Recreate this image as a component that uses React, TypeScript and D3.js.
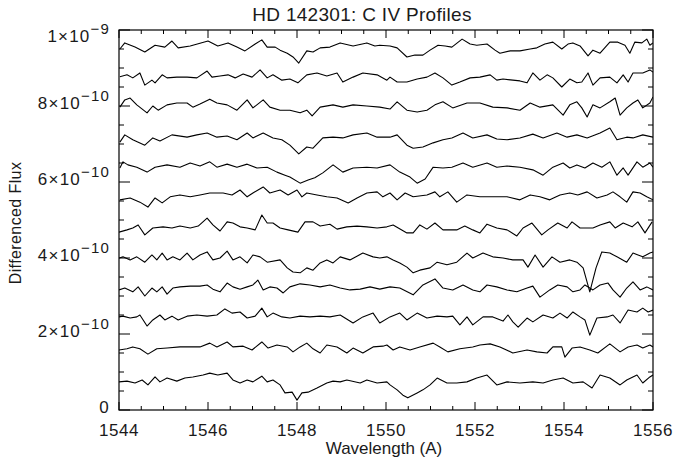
import React from 'react';
import * as d3 from 'd3';

// ---------- text ----------
const TITLE = 'HD 142301: C IV Profiles';
const X_LABEL = 'Wavelength (A)';
const Y_LABEL = 'Differenced Flux';

// ---------- axes ----------
const X_DOMAIN: [number, number] = [1544, 1556];
const Y_DOMAIN: [number, number] = [0, 1e-9];
const X_MAJOR_TICKS = [1544, 1546, 1548, 1550, 1552, 1554, 1556];
const X_MINOR_STEP = 0.5;
const Y_MAJOR_TICKS = [0, 2e-10, 4e-10, 6e-10, 8e-10, 1e-9];
const Y_MINOR_STEP = 0.5e-10;
const Y_TICK_MANTISSA = ['0', '2', '4', '6', '8', '1'];
const Y_TICK_EXPONENT = ['', '\u221210', '\u221210', '\u221210', '\u221210', '\u22129'];

// ---------- data ----------
const FLUX_UNIT = 1e-10;
// vertical offset of each differenced profile, bottom to top (x 1e-10)
const OFFSETS = [0.8, 1.6, 2.4, 3.2, 4.0, 4.8, 5.6, 6.4, 7.2, 8.0, 8.8, 9.6];

// each profile: [wavelength (A), differenced flux relative to its offset (x 1e-10)]
const PROFILE_1: [number, number][] = [
  [1544.00,-0.06],[1544.18,-0.04],[1544.36,-0.09],[1544.52,-0.01],[1544.65,-0.14],[1544.81,0.07],[1544.92,-0.06],[1545.08,0.04],[1545.30,-0.04],[1545.48,0.04],[1545.66,0.07],[1545.89,0.12],[1546.04,0.17],[1546.22,0.12],[1546.43,0.17],[1546.56,-0.01],[1546.72,-0.09],[1546.88,-0.01],[1547.01,-0.06],[1547.21,0.09],[1547.33,-0.06],[1547.46,-0.01],[1547.62,-0.14],[1547.73,-0.35],[1547.89,-0.33],[1548.00,-0.54],[1548.11,-0.35],[1548.25,-0.33],[1548.45,-0.22],[1548.67,-0.09],[1548.81,-0.04],[1548.97,-0.06],[1549.12,-0.01],[1549.42,-0.09],[1549.57,-0.01],[1549.80,-0.09],[1550.02,-0.06],[1550.09,-0.14],[1550.25,-0.27],[1550.38,-0.41],[1550.49,-0.48],[1550.70,-0.35],[1550.83,-0.27],[1550.99,-0.14],[1551.15,0.04],[1551.37,-0.09],[1551.59,-0.09],[1551.82,-0.06],[1552.04,0.04],[1552.27,0.12],[1552.49,-0.14],[1552.72,-0.06],[1553.01,-0.09],[1553.30,-0.06],[1553.53,-0.09],[1553.75,-0.01],[1553.98,0.04],[1554.20,-0.09],[1554.43,-0.06],[1554.63,-0.22],[1554.81,0.12],[1555.03,0.04],[1555.26,-0.14],[1555.41,-0.01],[1555.64,0.12],[1555.77,-0.09],[1555.93,0.07],[1556.00,0.12],
];
const PROFILE_2: [number, number][] = [
  [1544.00,-0.02],[1544.18,0.01],[1544.31,0.06],[1544.47,0.01],[1544.65,-0.13],[1544.85,0.01],[1545.08,0.03],[1545.37,0.06],[1545.60,0.06],[1545.82,0.06],[1546.04,0.16],[1546.20,0.06],[1546.43,0.19],[1546.56,0.06],[1546.79,0.08],[1546.99,-0.02],[1547.21,0.19],[1547.35,0.03],[1547.55,0.11],[1547.78,0.06],[1547.91,-0.07],[1548.07,0.06],[1548.22,0.16],[1548.36,0.01],[1548.52,-0.10],[1548.67,0.11],[1548.90,0.06],[1549.12,-0.10],[1549.26,0.03],[1549.48,-0.10],[1549.71,0.06],[1549.93,0.08],[1550.02,0.11],[1550.16,-0.02],[1550.31,0.06],[1550.54,-0.02],[1550.76,0.06],[1551.06,0.16],[1551.21,0.06],[1551.39,-0.07],[1551.66,0.01],[1551.95,0.06],[1552.11,0.11],[1552.34,0.14],[1552.56,0.06],[1552.85,-0.10],[1553.17,-0.02],[1553.39,-0.07],[1553.62,-0.10],[1553.75,0.06],[1553.95,0.06],[1554.02,-0.21],[1554.18,0.03],[1554.36,0.06],[1554.58,-0.02],[1554.76,-0.10],[1555.03,0.14],[1555.26,-0.07],[1555.44,0.06],[1555.64,0.11],[1555.77,0.03],[1555.93,0.11],[1556.00,0.06],
];
const PROFILE_3: [number, number][] = [
  [1544.00,0.05],[1544.09,0.07],[1544.25,0.02],[1544.40,0.05],[1544.47,0.10],[1544.63,-0.19],[1544.76,-0.03],[1544.92,0.10],[1545.03,-0.03],[1545.19,0.07],[1545.33,-0.03],[1545.53,0.07],[1545.75,0.10],[1545.98,0.07],[1546.20,0.10],[1546.38,0.26],[1546.54,0.15],[1546.72,0.18],[1546.88,0.02],[1547.06,0.07],[1547.21,0.28],[1547.33,0.05],[1547.46,0.15],[1547.66,0.05],[1547.84,0.02],[1548.07,0.07],[1548.29,0.05],[1548.52,0.07],[1548.74,0.05],[1548.97,0.10],[1549.26,-0.11],[1549.48,0.05],[1549.71,0.15],[1549.86,-0.11],[1550.09,0.05],[1550.31,0.15],[1550.47,-0.03],[1550.70,0.15],[1550.92,0.02],[1551.15,0.07],[1551.37,0.05],[1551.50,0.07],[1551.66,-0.16],[1551.82,0.05],[1551.95,-0.16],[1552.18,0.05],[1552.40,0.05],[1552.63,-0.06],[1552.74,0.10],[1552.85,-0.08],[1552.97,-0.22],[1553.17,0.02],[1553.30,-0.08],[1553.53,0.10],[1553.75,0.02],[1553.91,0.15],[1554.07,0.02],[1554.20,0.18],[1554.36,0.05],[1554.47,-0.03],[1554.58,-0.43],[1554.74,0.02],[1554.97,0.05],[1555.10,0.10],[1555.26,-0.11],[1555.44,0.23],[1555.64,0.18],[1555.77,0.28],[1555.89,0.18],[1556.00,0.23],
];
const PROFILE_4: [number, number][] = [
  [1544.00,-0.04],[1544.13,0.01],[1544.31,-0.09],[1544.43,0.04],[1544.58,-0.20],[1544.74,0.01],[1544.85,-0.09],[1544.97,0.04],[1545.08,-0.15],[1545.21,0.01],[1545.37,0.04],[1545.60,0.06],[1545.82,0.06],[1545.98,0.09],[1546.11,-0.02],[1546.27,-0.09],[1546.43,0.14],[1546.56,0.04],[1546.72,-0.02],[1546.88,0.04],[1547.01,0.09],[1547.12,0.22],[1547.24,-0.04],[1547.39,0.04],[1547.55,0.01],[1547.69,-0.12],[1547.84,0.04],[1548.07,0.12],[1548.29,0.09],[1548.52,0.04],[1548.74,0.09],[1548.97,0.01],[1549.19,-0.04],[1549.42,-0.02],[1549.64,0.04],[1549.86,-0.02],[1550.09,0.04],[1550.31,0.01],[1550.61,-0.17],[1550.83,0.09],[1551.10,0.25],[1551.28,0.01],[1551.50,-0.04],[1551.73,0.09],[1551.95,-0.04],[1552.11,-0.09],[1552.27,0.09],[1552.49,0.04],[1552.72,-0.04],[1552.94,-0.09],[1553.17,0.01],[1553.30,0.06],[1553.46,-0.23],[1553.68,-0.04],[1553.86,0.09],[1554.07,0.04],[1554.20,-0.09],[1554.36,-0.04],[1554.47,0.09],[1554.65,-0.04],[1554.81,0.09],[1554.99,0.14],[1555.10,-0.04],[1555.26,-0.23],[1555.41,0.01],[1555.55,0.17],[1555.71,-0.04],[1555.86,0.04],[1556.00,-0.04],
];
const PROFILE_5: [number, number][] = [
  [1544.00,0.00],[1544.09,0.03],[1544.25,-0.05],[1544.40,0.03],[1544.58,-0.11],[1544.74,0.08],[1544.85,-0.05],[1544.97,0.13],[1545.08,-0.05],[1545.21,0.03],[1545.37,-0.05],[1545.53,0.13],[1545.66,-0.05],[1545.82,0.08],[1545.98,0.16],[1546.11,-0.05],[1546.27,0.00],[1546.43,0.18],[1546.56,-0.05],[1546.72,0.03],[1546.88,-0.13],[1547.01,0.08],[1547.17,0.03],[1547.33,-0.11],[1547.62,-0.05],[1547.78,-0.26],[1547.91,-0.37],[1548.07,-0.39],[1548.22,-0.26],[1548.36,-0.32],[1548.52,-0.13],[1548.67,-0.05],[1548.81,-0.13],[1548.97,0.03],[1549.19,-0.05],[1549.48,0.13],[1549.71,0.03],[1549.86,0.00],[1550.02,0.03],[1550.16,-0.05],[1550.31,-0.13],[1550.47,-0.24],[1550.61,-0.39],[1550.76,-0.32],[1550.99,-0.26],[1551.15,-0.11],[1551.37,-0.18],[1551.59,-0.11],[1551.82,0.13],[1551.95,0.00],[1552.18,0.13],[1552.40,0.03],[1552.63,0.00],[1552.85,-0.05],[1553.08,-0.05],[1553.19,-0.24],[1553.35,0.08],[1553.53,-0.24],[1553.73,0.03],[1553.91,-0.11],[1554.13,-0.05],[1554.29,-0.11],[1554.43,-0.26],[1554.58,-0.89],[1554.72,-0.26],[1554.85,0.16],[1555.03,0.13],[1555.19,0.03],[1555.41,-0.11],[1555.55,0.13],[1555.77,0.03],[1555.93,0.13],[1556.00,0.16],
];
const PROFILE_6: [number, number][] = [
  [1544.00,-0.12],[1544.18,-0.06],[1544.31,-0.01],[1544.43,0.07],[1544.58,-0.19],[1544.76,-0.01],[1544.99,0.02],[1545.19,-0.01],[1545.37,0.04],[1545.60,-0.01],[1545.78,0.04],[1545.98,0.25],[1546.11,0.07],[1546.27,-0.09],[1546.43,0.15],[1546.56,0.12],[1546.72,0.02],[1546.88,-0.01],[1547.06,-0.06],[1547.21,0.33],[1547.33,0.12],[1547.46,0.12],[1547.62,-0.01],[1547.80,-0.06],[1548.02,-0.12],[1548.18,0.15],[1548.36,0.15],[1548.52,0.04],[1548.74,0.09],[1548.90,-0.04],[1549.12,0.02],[1549.35,0.04],[1549.57,0.02],[1549.80,-0.01],[1550.02,0.02],[1550.16,0.07],[1550.47,-0.14],[1550.61,-0.14],[1550.76,0.07],[1550.92,-0.04],[1551.10,0.12],[1551.28,-0.06],[1551.59,-0.06],[1551.77,0.04],[1551.95,-0.06],[1552.11,-0.14],[1552.27,0.09],[1552.49,-0.01],[1552.72,-0.06],[1552.94,-0.22],[1553.08,-0.01],[1553.28,0.12],[1553.50,-0.19],[1553.64,-0.06],[1553.86,0.12],[1554.07,-0.01],[1554.18,0.15],[1554.36,-0.01],[1554.65,-0.01],[1554.81,0.07],[1555.03,0.15],[1555.15,-0.01],[1555.33,0.12],[1555.53,0.02],[1555.66,0.15],[1555.82,-0.14],[1555.98,0.15],
];
const PROFILE_7: [number, number][] = [
  [1544.02,-0.07],[1544.25,-0.02],[1544.47,-0.13],[1544.65,-0.26],[1544.81,-0.02],[1544.97,-0.15],[1545.15,0.01],[1545.37,0.06],[1545.60,0.01],[1545.82,0.06],[1546.04,0.11],[1546.34,0.11],[1546.54,0.06],[1546.72,0.19],[1546.88,0.01],[1547.01,0.11],[1547.24,0.27],[1547.39,0.11],[1547.62,0.19],[1547.80,0.06],[1548.00,0.19],[1548.11,0.01],[1548.22,0.11],[1548.45,0.06],[1548.67,0.01],[1548.90,-0.02],[1549.15,-0.15],[1549.35,-0.02],[1549.57,0.11],[1549.80,0.14],[1549.93,0.01],[1550.09,0.11],[1550.25,-0.07],[1550.43,0.11],[1550.61,0.01],[1550.92,0.06],[1551.10,0.14],[1551.21,0.01],[1551.39,0.14],[1551.59,-0.13],[1551.82,0.06],[1552.11,0.01],[1552.40,0.01],[1552.72,0.01],[1553.01,-0.07],[1553.24,0.06],[1553.46,0.01],[1553.68,-0.07],[1553.91,0.06],[1554.13,0.11],[1554.31,0.06],[1554.52,0.14],[1554.74,-0.02],[1554.97,0.06],[1555.10,0.14],[1555.26,0.01],[1555.41,-0.13],[1555.55,0.14],[1555.71,0.11],[1555.86,0.01],[1556.00,-0.07],
];
const PROFILE_8: [number, number][] = [
  [1544.02,-0.03],[1544.09,0.13],[1544.20,0.05],[1544.40,-0.01],[1544.63,-0.14],[1544.81,-0.01],[1545.08,0.05],[1545.37,-0.01],[1545.60,0.10],[1545.82,0.02],[1546.04,0.13],[1546.20,-0.01],[1546.43,0.07],[1546.65,-0.01],[1546.88,0.07],[1547.10,-0.03],[1547.33,-0.01],[1547.55,-0.14],[1547.73,-0.22],[1547.84,-0.27],[1548.07,-0.43],[1548.25,-0.35],[1548.40,-0.29],[1548.58,-0.16],[1548.81,0.05],[1549.03,-0.14],[1549.26,-0.03],[1549.57,-0.01],[1549.80,-0.03],[1550.09,0.05],[1550.31,-0.14],[1550.54,-0.27],[1550.70,-0.43],[1550.88,-0.32],[1551.06,-0.01],[1551.28,-0.03],[1551.48,-0.01],[1551.73,0.10],[1551.95,-0.01],[1552.27,0.10],[1552.49,-0.01],[1552.72,0.02],[1553.01,-0.01],[1553.30,-0.08],[1553.53,-0.22],[1553.75,-0.01],[1553.98,0.10],[1554.13,-0.03],[1554.29,0.05],[1554.47,-0.03],[1554.65,0.10],[1554.85,-0.01],[1555.03,0.13],[1555.19,-0.22],[1555.33,-0.03],[1555.44,-0.22],[1555.64,0.13],[1555.77,-0.01],[1555.93,0.10],[1556.00,-0.01],
];
const PROFILE_9: [number, number][] = [
  [1544.02,-0.15],[1544.13,0.04],[1544.31,-0.09],[1544.58,-0.23],[1544.76,-0.04],[1544.92,-0.12],[1545.19,0.04],[1545.53,-0.02],[1545.75,0.04],[1545.98,0.09],[1546.20,-0.02],[1546.43,0.01],[1546.65,-0.09],[1546.88,0.09],[1547.01,-0.04],[1547.24,0.09],[1547.46,-0.04],[1547.66,-0.09],[1547.84,-0.23],[1548.04,-0.46],[1548.22,-0.28],[1548.36,-0.31],[1548.58,-0.04],[1548.81,-0.02],[1549.03,-0.04],[1549.26,0.04],[1549.57,0.09],[1549.80,-0.02],[1550.09,-0.02],[1550.25,0.04],[1550.47,-0.23],[1550.61,-0.31],[1550.83,-0.28],[1551.06,-0.17],[1551.28,-0.09],[1551.48,-0.04],[1551.73,0.09],[1551.95,-0.04],[1552.27,0.04],[1552.49,-0.07],[1552.72,-0.09],[1553.01,-0.04],[1553.30,0.06],[1553.53,-0.04],[1553.84,0.09],[1554.07,-0.02],[1554.29,0.04],[1554.52,-0.04],[1554.81,0.09],[1555.03,0.22],[1555.19,-0.09],[1555.41,-0.02],[1555.55,-0.04],[1555.77,0.04],[1556.00,-0.02],
];
const PROFILE_10: [number, number][] = [
  [1544.02,-0.03],[1544.13,0.16],[1544.25,0.21],[1544.40,0.03],[1544.63,-0.18],[1544.76,0.00],[1544.88,-0.11],[1545.08,0.03],[1545.30,0.08],[1545.53,0.08],[1545.66,-0.03],[1545.82,0.05],[1546.04,0.18],[1546.20,0.08],[1546.43,0.03],[1546.65,-0.11],[1546.88,0.16],[1547.01,-0.05],[1547.24,0.16],[1547.39,-0.03],[1547.62,-0.11],[1547.84,-0.11],[1548.07,-0.18],[1548.22,-0.11],[1548.34,-0.26],[1548.52,-0.03],[1548.81,0.03],[1549.03,-0.03],[1549.26,0.03],[1549.57,0.00],[1549.86,-0.03],[1550.09,-0.08],[1550.25,0.11],[1550.47,-0.11],[1550.70,-0.16],[1550.92,-0.11],[1551.10,0.03],[1551.28,0.11],[1551.50,-0.05],[1551.82,0.08],[1552.11,0.08],[1552.40,-0.03],[1552.72,-0.05],[1553.01,-0.11],[1553.24,0.08],[1553.46,-0.03],[1553.75,0.03],[1553.98,-0.24],[1554.13,0.03],[1554.29,0.11],[1554.40,-0.05],[1554.52,-0.29],[1554.65,0.03],[1554.81,-0.05],[1555.03,0.11],[1555.15,0.21],[1555.26,-0.24],[1555.41,-0.05],[1555.55,0.08],[1555.66,0.16],[1555.77,-0.05],[1555.93,0.08],[1556.00,0.24],
];
const PROFILE_11: [number, number][] = [
  [1544.02,-0.03],[1544.18,0.02],[1544.31,-0.06],[1544.47,0.07],[1544.58,-0.25],[1544.74,-0.12],[1544.81,-0.19],[1544.97,0.02],[1545.08,-0.06],[1545.30,-0.04],[1545.53,-0.04],[1545.75,-0.06],[1545.98,0.12],[1546.09,-0.04],[1546.27,-0.01],[1546.45,0.02],[1546.61,-0.06],[1546.79,0.04],[1546.99,-0.04],[1547.17,0.15],[1547.33,-0.06],[1547.46,0.02],[1547.66,-0.12],[1547.84,-0.09],[1548.02,-0.19],[1548.22,0.02],[1548.45,0.07],[1548.67,-0.01],[1548.90,0.07],[1549.03,-0.17],[1549.26,-0.04],[1549.48,0.07],[1549.80,0.02],[1550.02,-0.12],[1550.09,-0.04],[1550.25,-0.17],[1550.47,-0.17],[1550.70,-0.09],[1550.92,-0.04],[1551.10,0.07],[1551.28,-0.06],[1551.48,-0.25],[1551.66,-0.17],[1551.89,-0.06],[1552.11,-0.04],[1552.34,0.02],[1552.49,-0.12],[1552.63,-0.09],[1552.85,-0.12],[1553.01,-0.14],[1553.17,-0.19],[1553.30,0.07],[1553.46,-0.12],[1553.62,0.02],[1553.75,-0.06],[1553.95,-0.30],[1554.13,-0.09],[1554.29,-0.19],[1554.40,-0.17],[1554.54,0.07],[1554.65,-0.25],[1554.81,-0.06],[1555.03,-0.04],[1555.19,-0.19],[1555.33,0.02],[1555.44,-0.17],[1555.55,0.07],[1555.77,0.07],[1555.93,0.15],[1556.00,0.09],
];
const PROFILE_12: [number, number][] = [
  [1544.02,-0.10],[1544.13,0.06],[1544.36,-0.05],[1544.58,-0.18],[1544.81,0.00],[1545.03,-0.05],[1545.19,0.11],[1545.33,-0.07],[1545.60,-0.02],[1546.00,0.11],[1546.22,-0.02],[1546.45,0.06],[1546.65,-0.05],[1546.83,-0.15],[1547.06,0.03],[1547.21,0.14],[1547.33,-0.05],[1547.51,-0.05],[1547.62,-0.13],[1547.78,-0.21],[1547.91,-0.31],[1548.04,-0.47],[1548.22,-0.15],[1548.36,-0.18],[1548.52,-0.07],[1548.74,-0.05],[1548.97,0.06],[1549.26,-0.02],[1549.57,0.06],[1549.75,-0.02],[1549.86,0.00],[1550.09,-0.02],[1550.25,-0.07],[1550.47,-0.31],[1550.65,-0.26],[1550.83,-0.26],[1550.99,-0.13],[1551.17,0.00],[1551.33,-0.02],[1551.48,-0.05],[1551.71,0.16],[1551.89,0.03],[1552.04,0.00],[1552.27,0.03],[1552.45,-0.13],[1552.56,-0.21],[1552.79,-0.15],[1553.01,-0.15],[1553.24,-0.10],[1553.39,-0.07],[1553.57,0.03],[1553.75,0.08],[1553.95,-0.10],[1554.09,0.03],[1554.20,0.06],[1554.36,-0.02],[1554.54,-0.28],[1554.65,-0.13],[1554.81,-0.21],[1555.03,0.08],[1555.21,0.08],[1555.37,0.00],[1555.48,-0.21],[1555.59,0.08],[1555.75,0.06],[1555.86,0.16],[1555.93,0.00],[1556.00,0.06],
];

const PROFILES = [
  PROFILE_1, PROFILE_2, PROFILE_3, PROFILE_4, PROFILE_5, PROFILE_6,
  PROFILE_7, PROFILE_8, PROFILE_9, PROFILE_10, PROFILE_11, PROFILE_12,
];

// ---------- layout ----------
const W = 675;
const H = 463;
const M = { left: 119, right: 653, top: 30, bottom: 410 };
const FONT = '"Liberation Sans", Arial, Helvetica, sans-serif';
const TEXT_COLOR = '#1a1a1a';

export default function App() {
  const x = d3.scaleLinear().domain(X_DOMAIN).range([M.left, M.right]);
  const y = d3.scaleLinear().domain(Y_DOMAIN).range([M.bottom, M.top]);

  const line = d3
    .line<[number, number]>()
    .x((d) => x(d[0]))
    .y((d) => y(d[1]));

  const xMinor = d3.range(X_DOMAIN[0], X_DOMAIN[1] + 1e-9, X_MINOR_STEP).filter(
    (v) => !X_MAJOR_TICKS.some((m) => Math.abs(m - v) < 1e-9)
  );
  const yMinor = d3
    .range(0, 21)
    .map((i) => i * Y_MINOR_STEP)
    .filter((v) => v <= Y_DOMAIN[1] + 1e-20 && !Y_MAJOR_TICKS.some((m) => Math.abs(m - v) < 1e-15));

  const xMajLen = 8;
  const xMinLen = 4;
  const yMajLen = 11;
  const yMinLen = 5;

  return (
    <div style={{ position: 'absolute', left: 0, top: 0 }}>
      <svg width={W} height={H} viewBox={`0 0 ${W} ${H}`} style={{ display: 'block', background: '#fff' }}>
        <rect x={0} y={0} width={W} height={H} fill="#fff" />
        <defs>
          <clipPath id="plotclip">
            <rect x={M.left} y={M.top} width={M.right - M.left} height={M.bottom - M.top} />
          </clipPath>
        </defs>
        <g fontFamily={FONT} fill={TEXT_COLOR}>
          <text x={362} y={21} fontSize={19} textAnchor="middle" letterSpacing={0.3}>
            {TITLE}
          </text>
          <text x={384} y={454} fontSize={17} textAnchor="middle">
            {X_LABEL}
          </text>
          <text
            transform={`translate(21, ${(M.top + M.bottom) / 2 + 3}) rotate(-90)`}
            fontSize={16}
            textAnchor="middle"
            letterSpacing={0.4}
          >
            {Y_LABEL}
          </text>
        </g>

        {/* profiles */}
        <g clipPath="url(#plotclip)">
          {PROFILES.map((p, i) => (
            <path
              key={i}
              d={line(p.map(([w, f]) => [w, (OFFSETS[i] + f) * FLUX_UNIT] as [number, number])) || ''}
              fill="none"
              stroke="#000"
              strokeWidth={1.1}
              strokeLinejoin="round"
            />
          ))}
        </g>

        {/* frame */}
        <rect
          x={M.left}
          y={M.top}
          width={M.right - M.left}
          height={M.bottom - M.top}
          fill="none"
          stroke="#000"
          strokeWidth={1.2}
        />

        {/* ticks */}
        <g stroke="#000" strokeWidth={1}>
          {X_MAJOR_TICKS.map((t) => (
            <g key={'xm' + t}>
              <line x1={x(t)} x2={x(t)} y1={M.bottom} y2={M.bottom - xMajLen} />
              <line x1={x(t)} x2={x(t)} y1={M.top} y2={M.top + xMajLen} />
            </g>
          ))}
          {xMinor.map((t) => (
            <g key={'xn' + t}>
              <line x1={x(t)} x2={x(t)} y1={M.bottom} y2={M.bottom - xMinLen} />
              <line x1={x(t)} x2={x(t)} y1={M.top} y2={M.top + xMinLen} />
            </g>
          ))}
          {Y_MAJOR_TICKS.map((t) => (
            <g key={'ym' + t}>
              <line x1={M.left} x2={M.left + yMajLen} y1={y(t)} y2={y(t)} />
              <line x1={M.right} x2={M.right - yMajLen} y1={y(t)} y2={y(t)} />
            </g>
          ))}
          {yMinor.map((t) => (
            <g key={'yn' + t}>
              <line x1={M.left} x2={M.left + yMinLen} y1={y(t)} y2={y(t)} />
              <line x1={M.right} x2={M.right - yMinLen} y1={y(t)} y2={y(t)} />
            </g>
          ))}
        </g>

        {/* tick labels */}
        <g fontFamily={FONT} fill={TEXT_COLOR}>
          {X_MAJOR_TICKS.map((t) => (
            <text key={'xl' + t} x={x(t)} y={436} fontSize={17} textAnchor="middle" letterSpacing={0.5}>
              {String(t)}
            </text>
          ))}
          {Y_MAJOR_TICKS.map((t, i) => {
            const base = Math.max(y(t) + 3, M.top + 12);
            const exp = Y_TICK_EXPONENT[i];
            return (
              <text key={'yl' + t} x={110} y={base} textAnchor="end" fontSize={17} letterSpacing={1.2}>
                {Y_TICK_MANTISSA[i]}
                {exp ? '\u00d710' : ''}
                {exp ? (
                  <tspan dy={-8} fontSize={15}>
                    {exp}
                  </tspan>
                ) : null}
              </text>
            );
          })}
        </g>
      </svg>
    </div>
  );
}
